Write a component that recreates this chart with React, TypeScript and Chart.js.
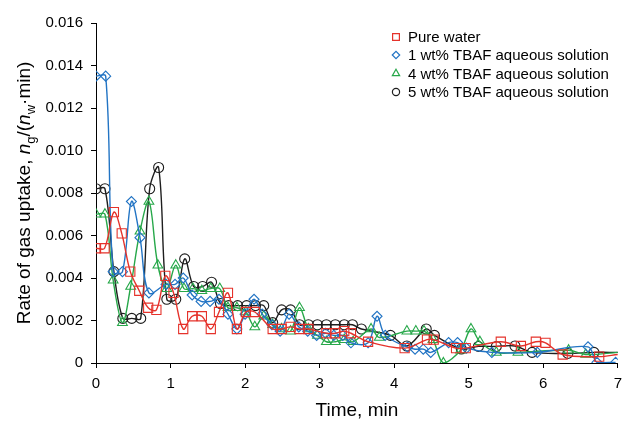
import React, { useEffect, useRef } from "react";
import { Chart, registerables } from "chart.js";
import { drawPoint } from "chart.js/helpers";

Chart.register(...registerables);

const FONT = '"Liberation Sans", Arial, Helvetica, sans-serif';

// Time (min) and rate of gas uptake for each series
const pureTime = [0, 0.115, 0.24, 0.345, 0.46, 0.58, 0.7, 0.81, 0.93, 1.04, 1.17, 1.29, 1.42, 1.54, 1.65, 1.77, 1.89, 2.01, 2.13, 2.37, 2.49, 2.61, 2.73, 2.85, 3.09, 3.21, 3.33, 3.42, 3.65, 4.14, 4.44, 4.53, 4.83, 4.96, 5.43, 5.7, 5.9, 6.03, 6.26, 6.75, 7.0];
const pureRate = [0.0054, 0.0054, 0.0071, 0.0061, 0.0043, 0.0034, 0.0026, 0.0025, 0.0041, 0.0033, 0.0016, 0.0022, 0.0022, 0.0016, 0.0024, 0.0033, 0.0016, 0.0024, 0.0024, 0.0016, 0.0016, 0.0017, 0.0016, 0.0016, 0.0014, 0.0014, 0.0015, 0.0014, 0.001, 0.0007, 0.0011, 0.0011, 0.0007, 0.0007, 0.001, 0.0008, 0.001, 0.00095, 0.0004, 0.0003, 0.0004];

const tbaf1Time = [0, 0.13, 0.23, 0.355, 0.475, 0.59, 0.71, 0.94, 1.06, 1.17, 1.29, 1.41, 1.53, 1.65, 1.77, 1.89, 2.0, 2.12, 2.23, 2.36, 2.47, 2.59, 2.72, 2.84, 2.96, 3.08, 3.19, 3.31, 3.42, 3.65, 3.77, 3.88, 4.18, 4.28, 4.39, 4.49, 4.73, 4.85, 4.97, 5.31, 5.92, 6.6, 6.72, 6.97];
const tbaf1Rate = [0.0135, 0.0135, 0.0043, 0.0043, 0.0076, 0.0059, 0.0033, 0.0037, 0.0037, 0.004, 0.0032, 0.0029, 0.0029, 0.003, 0.0023, 0.0016, 0.0023, 0.003, 0.0023, 0.0018, 0.0015, 0.0023, 0.0017, 0.0015, 0.0013, 0.0014, 0.0013, 0.0013, 0.00095, 0.00095, 0.0022, 0.0013, 0.00075, 0.00065, 0.00065, 0.0005, 0.00096, 0.00096, 0.0007, 0.0005, 0.0005, 0.00076, 0.00003, 0.00003];

const tbaf4Time = [0, 0.12, 0.23, 0.355, 0.465, 0.59, 0.71, 0.83, 0.95, 1.07, 1.18, 1.3, 1.42, 1.54, 1.66, 1.77, 1.89, 2.01, 2.13, 2.25, 2.37, 2.49, 2.61, 2.73, 2.85, 2.97, 3.09, 3.21, 3.33, 3.45, 3.69, 3.8, 4.17, 4.29, 4.4, 4.52, 4.66, 4.89, 5.03, 5.15, 5.37, 5.66, 6.34, 6.57, 7.0];
const tbaf4Rate = [0.007, 0.007, 0.0039, 0.0019, 0.0036, 0.0062, 0.0076, 0.0046, 0.0035, 0.0046, 0.0035, 0.0035, 0.0034, 0.0035, 0.0035, 0.0026, 0.0026, 0.0024, 0.0017, 0.0022, 0.0018, 0.0016, 0.0015, 0.0026, 0.0016, 0.0013, 0.001, 0.001, 0.0011, 0.001, 0.0016, 0.0012, 0.0015, 0.0015, 0.0015, 0.0011, 0.0, 0.0006, 0.0016, 0.001, 0.0005, 0.0005, 0.0006, 0.0004, 0.0005];

const tbaf5Time = [0, 0.12, 0.24, 0.36, 0.48, 0.6, 0.72, 0.84, 0.95, 1.07, 1.19, 1.31, 1.43, 1.55, 1.67, 1.78, 1.9, 2.02, 2.14, 2.25, 2.37, 2.49, 2.61, 2.73, 2.85, 2.97, 3.09, 3.21, 3.33, 3.44, 3.56, 3.95, 4.17, 4.43, 4.54, 4.9, 5.13, 5.37, 5.62, 5.85, 6.33, 6.68, 7.0];
const tbaf5Rate = [0.0082, 0.0082, 0.0043, 0.0021, 0.0021, 0.0021, 0.0082, 0.0092, 0.003, 0.003, 0.0049, 0.0036, 0.0036, 0.0038, 0.0028, 0.0027, 0.0027, 0.0027, 0.0027, 0.0027, 0.0019, 0.0025, 0.0025, 0.0018, 0.0018, 0.0018, 0.0018, 0.0018, 0.0018, 0.0018, 0.0016, 0.0013, 0.0008, 0.0016, 0.0013, 0.00066, 0.00078, 0.00078, 0.0008, 0.0005, 0.00045, 0.0005, 0.0005];

const seriesLabels = [
  "Pure water",
  "1 wt% TBAF aqueous solution",
  "4 wt% TBAF aqueous solution",
  "5 wt% TBAF aqueous solution",
];

const xTicks = [0, 1, 2, 3, 4, 5, 6, 7];

type SeriesDef = {
  label: string;
  time: number[];
  rate: number[];
  color: string;
  style: string;
  radius: number;
  legendRadius: number;
  markerlessEnd: boolean;
};

const SERIES: SeriesDef[] = [
  { label: seriesLabels[0], time: pureTime, rate: pureRate, color: "#e5322b", style: "rect", radius: 6.5, legendRadius: 4.8, markerlessEnd: true },
  { label: seriesLabels[1], time: tbaf1Time, rate: tbaf1Rate, color: "#2274c4", style: "rectRot", radius: 5, legendRadius: 3.7, markerlessEnd: false },
  { label: seriesLabels[2], time: tbaf4Time, rate: tbaf4Rate, color: "#27a84a", style: "triangle", radius: 5.6, legendRadius: 4.2, markerlessEnd: true },
  { label: seriesLabels[3], time: tbaf5Time, rate: tbaf5Rate, color: "#1e1e1e", style: "circle", radius: 5, legendRadius: 3.6, markerlessEnd: true },
];

const textPlugin = {
  id: "customText",
  afterDraw(chart: any) {
    const ctx = chart.ctx as CanvasRenderingContext2D;
    const area = chart.chartArea;
    ctx.save();
    ctx.fillStyle = "#000";
    // X title
    ctx.font = `19px ${FONT}`;
    ctx.textAlign = "center";
    ctx.textBaseline = "middle";
    ctx.fillText("Time, min", (area.left + area.right) / 2, 411);

    // Y title with italic and subscripts
    const size = 19;
    const sub = 13;
    const parts: { t: string; font: string; dy: number }[] = [
      { t: "Rate of gas uptake, ", font: `${size}px ${FONT}`, dy: 0 },
      { t: "n", font: `italic ${size}px ${FONT}`, dy: 0 },
      { t: "g", font: `${sub}px ${FONT}`, dy: 5 },
      { t: "/(", font: `${size}px ${FONT}`, dy: 0 },
      { t: "n", font: `italic ${size}px ${FONT}`, dy: 0 },
      { t: "w", font: `${sub}px ${FONT}`, dy: 5 },
      { t: "\u00b7min)", font: `${size}px ${FONT}`, dy: 0 },
    ];
    let total = 0;
    const widths = parts.map((p) => {
      ctx.font = p.font;
      const w = ctx.measureText(p.t).width;
      total += w;
      return w;
    });
    ctx.translate(23, (area.top + area.bottom) / 2);
    ctx.rotate(-Math.PI / 2);
    ctx.textAlign = "left";
    ctx.textBaseline = "alphabetic";
    let x = -total / 2;
    parts.forEach((p, i) => {
      ctx.font = p.font;
      ctx.fillText(p.t, x, 7 + p.dy);
      x += widths[i];
    });
    ctx.restore();

    // Legend
    ctx.save();
    const lx = 396;
    const tx = 408;
    const rows = [37, 55, 73.5, 92];
    SERIES.forEach((s, i) => {
      ctx.strokeStyle = s.color;
      ctx.fillStyle = "rgba(0,0,0,0)";
      ctx.lineWidth = 1.2;
      drawPoint(ctx, { pointStyle: s.style as any, radius: s.legendRadius, borderWidth: 1.2, rotation: 0 } as any, lx, rows[i]);
      ctx.fillStyle = "#000";
      ctx.font = `15px ${FONT}`;
      ctx.textAlign = "left";
      ctx.textBaseline = "middle";
      ctx.fillText(s.label, tx, rows[i] + 1);
    });
    ctx.restore();
  },
};

export default function App() {
  const ref = useRef<HTMLCanvasElement | null>(null);
  useEffect(() => {
    if (!ref.current) return;
    const datasets = SERIES.map((s) => {
      const data = s.time.map((t, i) => ({ x: t, y: s.rate[i] }));
      const last = data.length - 1;
      return {
        label: s.label,
        data,
        borderColor: s.color,
        borderWidth: 1.4,
        pointStyle: s.style,
        pointRadius: data.map((_, i) => (s.markerlessEnd && i === last ? 0 : s.radius)),
        pointBorderColor: s.color,
        pointBackgroundColor: "rgba(0,0,0,0)",
        pointBorderWidth: 1.1,
        tension: 0.35,
        fill: false,
      };
    });
    const chart = new Chart(ref.current, {
      type: "line",
      data: { datasets: datasets as any },
      options: {
        animation: false,
        responsive: false,
        maintainAspectRatio: false,
        layout: { padding: { top: 23, right: 7, left: 0, bottom: 0 } },
        plugins: { legend: { display: false }, tooltip: { enabled: false } },
        scales: {
          x: {
            type: "linear",
            min: 0,
            max: 7,
            afterBuildTicks: (scale: any) => {
              scale.ticks = xTicks.map((v) => ({ value: v }));
            },
            ticks: { color: "#000", font: { family: FONT, size: 15 }, padding: 7, maxRotation: 0 },
            grid: { display: true, drawOnChartArea: false, drawTicks: true, tickLength: 5, color: "#000" },
            border: { display: true, color: "#000", width: 1 },
            afterFit: (scale: any) => {
              scale.height = 63;
            },
          },
          y: {
            type: "linear",
            min: 0,
            max: 0.016,
            ticks: {
              stepSize: 0.002,
              color: "#000",
              font: { family: FONT, size: 15 },
              padding: 8,
              callback: (v: any) => (Number(v) === 0 ? "0" : Number(v).toFixed(3)),
            },
            grid: { display: true, drawOnChartArea: false, drawTicks: true, tickLength: 5, color: "#000" },
            border: { display: true, color: "#000", width: 1 },
            afterFit: (scale: any) => {
              scale.width = 96;
            },
          },
        },
      },
      plugins: [textPlugin],
    });
    return () => chart.destroy();
  }, []);
  return (
    <div style={{ position: "fixed", left: 0, top: 0, width: 629, height: 426, background: "#fff" }}>
      <canvas ref={ref} width={629} height={426} style={{ width: 629, height: 426 }} />
    </div>
  );
}
